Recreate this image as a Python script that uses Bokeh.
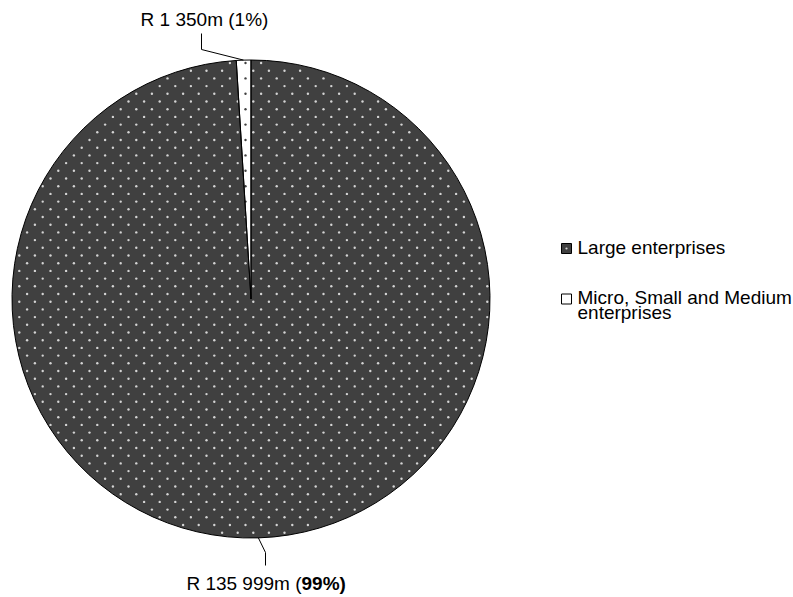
import math

import numpy as np
from bokeh.core.properties import value
from bokeh.embed import file_html
from bokeh.models import ColumnDataSource, Range1d
from bokeh.plotting import figure
from bokeh.resources import INLINE

# Turnover by enterprise size (R million)
categories = ["Large enterprises", "Micro, Small and Medium enterprises"]
amounts = [135999, 1350]
legend_lines = [["Large enterprises"], ["Micro, Small and Medium", "enterprises"]]

fills = ["#404040", "#ffffff"]
dot_colors = ["#d4d4d4", "#404040"]

W, H = 793, 597
FONT = "Liberation Sans"
FS = "19px"
TEXT_SHIFT = 7  # SVG text sits a little low with an alphabetic baseline


def fy(py):
    """Screen-space y (top down) to plot y (bottom up)."""
    return H - py


def ty(py):
    """Plot y for a text baseline given in screen space."""
    return H - (py - TEXT_SHIFT)


def fmt_amount(v):
    return "R " + f"{v:,}".replace(",", " ") + "m"


p = figure(width=W, height=H, x_range=Range1d(0, W), y_range=Range1d(0, H),
           output_backend="svg", toolbar_location=None,
           x_axis_location=None, y_axis_location=None, min_border=0)
p.grid.visible = False
p.outline_line_color = None
p.background_fill_color = "white"
p.border_fill_color = "white"

# Pie: large slice runs clockwise from 12 o'clock, small slice closes the circle
cx, cy, R = 250.5, fy(298.5), 239.0
total = sum(amounts)
frac = [a / total for a in amounts]
a_small = 2 * math.pi * frac[1]
top = math.pi / 2
starts = [top + a_small, top]
ends = [top + 2 * math.pi, top + a_small]

src = ColumnDataSource(dict(start=starts, end=ends, fill=fills))
p.wedge(x=cx, y=cy, radius=R, start_angle="start", end_angle="end", source=src,
        fill_color="fill", line_color=None)

# Staggered dot texture inside each slice
step_x, step_y = 15.6, 7.7
rows = np.arange(-40, 40)
cols = np.arange(-20, 20)
gx, gy = [], []
for j in rows:
    y_scr = 255 + j * step_y
    off = 0 if j % 2 == 0 else step_x / 2
    for k in cols:
        gx.append(206 + off + k * step_x)
        gy.append(y_scr)
gx = np.array(gx)
gy = fy(np.array(gy))
dx, dy = gx - cx, gy - cy
rr = np.hypot(dx, dy)
ang = np.mod(np.arctan2(dy, dx) - top, 2 * math.pi)  # measured anticlockwise from 12 o'clock
inside = rr < R - 2
in_small = inside & (ang > 0.004) & (ang < a_small - 0.004)
in_large = inside & (ang > a_small + 0.004) & (ang < 2 * math.pi - 0.004)
for mask, col in ((in_large, dot_colors[0]), (in_small, dot_colors[1])):
    p.scatter(x=gx[mask], y=gy[mask], marker="circle", size=2.4,
              fill_color=col, line_color=None)

# Slice outlines on top of the texture
p.wedge(x=cx, y=cy, radius=R, start_angle="start", end_angle="end", source=src,
        fill_color=None, line_color="black", line_width=1)

# Leader lines from slice mid-angles to the labels
mid_small = (starts[1] + ends[1]) / 2
mid_large = (starts[0] + ends[0]) / 2
sx, sy = cx + R * math.cos(mid_small), cy + R * math.sin(mid_small)
lx, ly = cx + R * math.cos(mid_large), cy + R * math.sin(mid_large)
p.line([sx, 201, 201], [sy, fy(49), fy(33)], line_color="black", line_width=1)
p.line([lx, 265, 265], [ly, fy(552), fy(565)], line_color="black", line_width=1)

# Data labels
pct = [f"{round(f * 100)}%" for f in frac]
p.text(x=[204], y=[ty(26)], text=[f"{fmt_amount(amounts[1])} ({pct[1]})"],
       text_font=value(FONT), text_font_size=FS, text_color="black",
       text_align="center", text_baseline="alphabetic")
split_x = 301
p.text(x=[split_x], y=[ty(590)], text=[f"{fmt_amount(amounts[0])} ("],
       text_font=value(FONT), text_font_size=FS, text_color="black",
       text_align="right", text_baseline="alphabetic")
p.text(x=[split_x], y=[ty(590)], text=[f"{pct[0]})"],
       text_font=value(FONT), text_font_size=FS, text_font_style="bold",
       text_color="black", text_align="left", text_baseline="alphabetic")

# Legend
sw_x = 566
sw_y = [fy(248), fy(298.5)]
p.scatter(x=[sw_x, sw_x], y=sw_y, marker="square", size=10,
          fill_color=fills, line_color="black", line_width=1)
p.scatter(x=[sw_x], y=[sw_y[0]], marker="circle", size=2.2,
          fill_color=dot_colors[0], line_color=None)
baselines = [[254], [304, 319]]
for lines, bls in zip(legend_lines, baselines):
    for txt, bl in zip(lines, bls):
        p.text(x=[577], y=[ty(bl)], text=[txt], text_font=value(FONT),
               text_font_size=FS, text_color="black", text_align="left",
               text_baseline="alphabetic")

open("out.html", "w").write(file_html(p, INLINE))
